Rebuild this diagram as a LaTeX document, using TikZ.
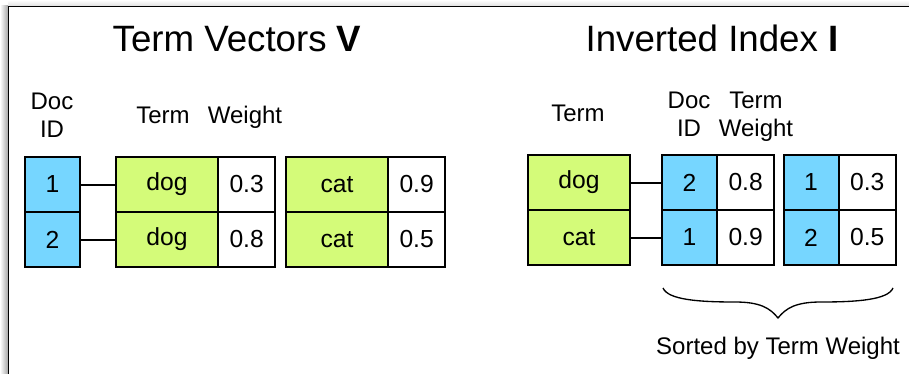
\documentclass[tikz,border=0pt]{standalone}
\usepackage{fontspec}
\setmainfont{Liberation Sans}
\usetikzlibrary{positioning}

\definecolor{idblue}{RGB}{118,214,255}
\definecolor{termgreen}{RGB}{212,251,121}

\tikzset{
  cell/.style={draw, line width=1.5pt, outer sep=0pt, inner sep=0pt,
    minimum height=41.25pt, font=\fontsize{18.5}{20}\selectfont},
  idcell/.style={cell, fill=idblue, minimum width=41.25pt},
  termcell/.style={cell, fill=termgreen, minimum width=76.5pt},
  wcell/.style={cell, fill=white, minimum width=43pt},
  heading/.style={inner sep=0pt, font=\fontsize{27.5}{30}\selectfont},
  colhead/.style={inner sep=0pt, align=center, font=\fontsize{18}{21}\selectfont},
  link/.style={line width=1.5pt},
}

\begin{document}
\begin{tikzpicture}[x=0.75pt, y=-0.75pt]
  \useasboundingbox (0,0) rectangle (909,374);
  % window frame, shadow on top and left
  \shade[left color=white, right color=black!35] (0,6) rectangle (8,374);
  \shade[top color=white, bottom color=black!12] (8,0) rectangle (909,6);
  \draw[line width=1.3pt] (8.5,374) -- (8.5,6.5) -- (909,6.5);

  % headings
  \node[heading, anchor=base] (vtitle) at (237,52) {Term Vectors \textbf{V}};
  \node[heading, anchor=base] (ititle) at (712,52) {Inverted Index \textbf{I}};

  % term vectors: one row per document
  \node[colhead] (vdochead) at (52,115) {Doc\\ID};
  \node[colhead, anchor=base] (vtermhead) at (163,124) {Term};
  \node[colhead, anchor=base] (vweighthead) at (245,124) {Weight};

  \node[idcell] (doc1) at (52.5,184.5) {1};
  \node[idcell, below=0pt of doc1] (doc2) {2};

  \node[termcell] (doc1t1) at (167,184.5) {dog};
  \node[wcell, right=0pt of doc1t1] (doc1w1) {0.3};
  \node[termcell] (doc1t2) at (337,184.5) {cat};
  \node[wcell, right=0pt of doc1t2] (doc1w2) {0.9};

  \node[termcell, below=0pt of doc1t1] (doc2t1) {dog};
  \node[wcell, right=0pt of doc2t1] (doc2w1) {0.8};
  \node[termcell, below=0pt of doc1t2] (doc2t2) {cat};
  \node[wcell, right=0pt of doc2t2] (doc2w2) {0.5};

  \draw[link] (doc1) -- (doc1t1);
  \draw[link] (doc2) -- (doc2t1);

  % inverted index: one posting list per term
  \node[colhead, anchor=base] (itermhead) at (578,122) {Term};
  \node[colhead] (idochead) at (689,114) {Doc\\ID};
  \node[colhead] (iweighthead) at (756,116.5) {Term\\Weight};

  \node[termcell] (dog) at (579,182.5) {dog};
  \node[termcell, below=0pt of dog] (cat) {cat};

  \node[idcell] (dogp1) at (689.5,182.5) {2};
  \node[wcell, right=0pt of dogp1] (dogw1) {0.8};
  \node[idcell] (dogp2) at (811,182.5) {1};
  \node[wcell, right=0pt of dogp2] (dogw2) {0.3};

  \node[idcell, below=0pt of dogp1] (catp1) {1};
  \node[wcell, right=0pt of catp1] (catw1) {0.9};
  \node[idcell, below=0pt of dogp2] (catp2) {2};
  \node[wcell, right=0pt of catp2] (catw2) {0.5};

  \draw[link] (dog) -- (dogp1);
  \draw[link] (cat) -- (catp1);

  % brace under the postings
  \coordinate (braceL) at (663,288);
  \coordinate (braceR) at (893,288);
  \coordinate (braceTip) at (778,318);
  \draw[line width=1pt] (braceL) .. controls (668,300) and (700,302) .. (735,302)
    .. controls (760,302) and (770,308) .. (braceTip)
    .. controls (786,308) and (796,302) .. (821,302)
    .. controls (856,302) and (888,300) .. (braceR);
  \node[colhead, anchor=base] (sortnote) at (778,354) {Sorted by Term Weight};
\end{tikzpicture}
\end{document}
